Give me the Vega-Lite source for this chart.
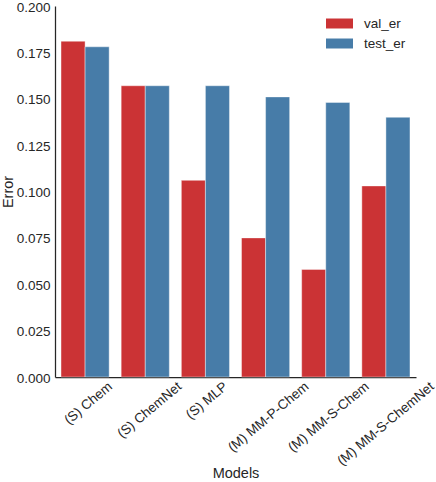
{
  "$schema": "https://vega.github.io/schema/vega-lite/v6.json",
  "autosize": {"type": "none"},
  "padding": {"left": 55, "top": 6, "right": 20, "bottom": 105},
  "width": 361,
  "height": 371,
  "background": "white",
  "config": {
    "font": "Liberation Sans",
    "view": {"stroke": null},
    "axis": {
      "domainColor": "#262626",
      "domainWidth": 1.25,
      "ticks": false,
      "grid": false,
      "labelColor": "#262626",
      "labelFontSize": 13.5,
      "titleColor": "#262626",
      "titleFontSize": 14.5,
      "titleFontWeight": "normal"
    },
    "legend": {
      "labelColor": "#262626",
      "labelFontSize": 13.5
    }
  },
  "data": {
    "values": [
      {"model": "(S) Chem", "metric": "val_er", "value": 0.181},
      {"model": "(S) Chem", "metric": "test_er", "value": 0.178},
      {"model": "(S) ChemNet", "metric": "val_er", "value": 0.157},
      {"model": "(S) ChemNet", "metric": "test_er", "value": 0.157},
      {"model": "(S) MLP", "metric": "val_er", "value": 0.106},
      {"model": "(S) MLP", "metric": "test_er", "value": 0.157},
      {"model": "(M) MM-P-Chem", "metric": "val_er", "value": 0.075},
      {"model": "(M) MM-P-Chem", "metric": "test_er", "value": 0.151},
      {"model": "(M) MM-S-Chem", "metric": "val_er", "value": 0.058},
      {"model": "(M) MM-S-Chem", "metric": "test_er", "value": 0.148},
      {"model": "(M) MM-S-ChemNet", "metric": "val_er", "value": 0.103},
      {"model": "(M) MM-S-ChemNet", "metric": "test_er", "value": 0.140}
    ]
  },
  "mark": {"type": "bar", "stroke": "white", "strokeWidth": 0.8, "strokeOpacity": 0.5},
  "encoding": {
    "x": {
      "field": "model",
      "type": "nominal",
      "sort": null,
      "scale": {"paddingInner": 0.2, "paddingOuter": 0.1},
      "axis": {
        "title": "Models",
        "labelAngle": -40,
        "labelAlign": "right",
        "labelBaseline": "top",
        "labelPadding": 2,
        "labelOffset": {
          "condition": [
            {"test": "datum.value === '(S) Chem'", "value": 21},
            {"test": "datum.value === '(S) ChemNet'", "value": 30},
            {"test": "datum.value === '(S) MLP'", "value": 16},
            {"test": "datum.value === '(M) MM-P-Chem'", "value": 37},
            {"test": "datum.value === '(M) MM-S-Chem'", "value": 37}
          ],
          "value": 42
        },
        "titleY": 96,
        "titleBaseline": "middle"
      }
    },
    "xOffset": {
      "field": "metric",
      "sort": ["val_er", "test_er"],
      "scale": {"paddingInner": 0, "paddingOuter": 0}
    },
    "y": {
      "field": "value",
      "type": "quantitative",
      "scale": {"domain": [0, 0.2], "nice": false},
      "axis": {
        "title": "Error",
        "values": [0, 0.025, 0.05, 0.075, 0.1, 0.125, 0.15, 0.175, 0.2],
        "format": ".3f",
        "labelPadding": 5,
        "labelOffset": 1,
        "titleX": -47,
        "titleBaseline": "middle"
      }
    },
    "color": {
      "field": "metric",
      "type": "nominal",
      "sort": ["val_er", "test_er"],
      "scale": {"domain": ["val_er", "test_er"], "range": ["#cb3335", "#477ca8"]},
      "legend": {
        "title": null,
        "orient": "none",
        "legendX": 271,
        "legendY": 4,
        "symbolType": "M-1,-0.37L1,-0.37L1,0.37L-1,0.37Z",
        "symbolSize": 729,
        "symbolStrokeWidth": 0,
        "labelOffset": 11,
        "rowPadding": -2
      }
    }
  }
}
